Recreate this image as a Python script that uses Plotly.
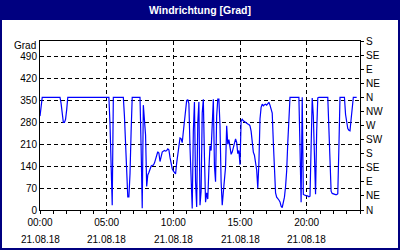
import pandas as pd
import plotly.graph_objects as go

# Wind direction in degrees, 5-minute samples starting 21.08.18 00:00
dir_00_05 = [300, 345, 360, 360, 360, 360, 360, 360, 360, 360, 360, 360,
             360, 360, 360, 360, 360, 360, 360, 340, 300, 280, 280, 290,
             320, 360, 360, 360, 360, 360, 360, 360, 360, 360, 360, 360,
             360, 360, 360, 360, 360, 360, 360, 360, 360, 360, 360, 360,
             360, 360, 360, 360, 360, 360, 360, 360, 360, 360, 360, 360]
dir_05_10 = [360, 360, 360, 275, 100, 15, 360, 360, 360, 360, 360, 360,
             360, 360, 360, 360, 300, 210, 95, 42, 42, 115, 250, 360,
             360, 360, 360, 360, 360, 360, 360, 200, 6, 335, 295, 240,
             75, 112, 120, 135, 140, 143, 143, 150, 162, 180, 186, 182,
             155, 170, 185, 188, 190, 188, 190, 195, 192, 168, 148, 132]
dir_10_15 = [125, 118, 115, 150, 175, 200, 230, 228, 215, 250, 290, 320,
             350, 352, 340, 200, 85, 5, 250, 345, 90, 10, 280, 345,
             15, 60, 310, 354, 170, 25, 55, 35, 130, 205, 190, 265,
             354, 140, 90, 300, 354, 354, 270, 90, 15, 57, 110, 137,
             269, 210, 225, 206, 178, 185, 200, 210, 227, 216, 180, 190]
dir_15_20 = [145, 285, 290, 285, 282, 278, 276, 275, 273, 269, 252, 215,
             185, 175, 150, 128, 70, 150, 291, 328, 338, 333, 336, 338,
             335, 340, 344, 335, 322, 310, 216, 110, 55, 41, 38, 32,
             26, 12, 8, 25, 41, 75, 125, 215, 300, 360, 360, 360,
             360, 360, 360, 360, 360, 360, 200, 25, 360, 50, 48, 46]
dir_20_24 = [45, 45, 42, 44, 200, 358, 300, 120, 50, 250, 358, 360,
             360, 360, 360, 360, 360, 360, 360, 360, 260, 112, 60, 53,
             51, 50, 49, 49, 52, 200, 360, 360, 360, 360, 360, 305,
             285, 260, 255, 253, 290, 340, 360, 360, 360, 360]

values = dir_00_05 + dir_05_10 + dir_10_15 + dir_15_20 + dir_20_24
start = "2018-08-21 00:00"
end = "2018-08-22 00:00"
times = pd.date_range(start, periods=len(values), freq="5min")

left_ticks = [0, 70, 140, 210, 280, 350, 420, 490]
right_ticks = [0, 45, 90, 135, 180, 225, 270, 315, 360, 405, 450, 495, 540]
right_labels = ["N", "NE", "E", "SE", "S", "SW", "W", "NW", "N", "NE", "E", "SE", "S"]
x_tick_times = ["2018-08-21 00:00", "2018-08-21 05:00", "2018-08-21 10:00",
                "2018-08-21 15:00", "2018-08-21 20:00"]
x_tick_dates = ["21.08.18"] * 5

FONT = "Liberation Sans"
NAVY = "#000080"

fig = go.Figure()
fig.add_trace(go.Scatter(x=times, y=values, mode="lines",
                         line=dict(color="#0000FF", width=1.2),
                         showlegend=False, hoverinfo="skip"))
fig.add_trace(go.Scatter(x=times, y=values, mode="lines", yaxis="y2",
                         line=dict(width=0), opacity=0,
                         showlegend=False, hoverinfo="skip"))

W, H = 400, 250
L, R, T, B = 40, 40, 41, 40
pw, ph = W - L - R, H - T - B


def px_x(px):
    return (px - L) / pw


def px_y(py):
    return (H - B - py) / ph


fig.update_layout(
    width=W, height=H,
    margin=dict(l=L, r=R, t=T, b=B),
    paper_bgcolor=NAVY,
    plot_bgcolor="white",
    font=dict(family=FONT, size=10, color="black"),
    xaxis=dict(
        type="date", range=[start, end],
        tickmode="array", tickvals=x_tick_times, tickformat="%H:%M",
        ticks="outside", ticklen=3, tickcolor="black",
        minor=dict(dtick=3600000, tick0=start, ticks="outside",
                   ticklen=3, tickcolor="black", showgrid=False),
        showgrid=True, gridcolor="black", griddash="4px,3px", gridwidth=1,
        showline=True, linecolor="black", linewidth=1, mirror=True,
        zeroline=False, tickfont=dict(size=10),
    ),
    yaxis=dict(
        range=[0, 540], tickmode="array", tickvals=left_ticks,
        ticks="", showgrid=True, gridcolor="black", griddash="4px,3px",
        gridwidth=1, showline=True, linecolor="black", linewidth=1,
        mirror=True, zeroline=False, tickfont=dict(size=10),
    ),
    yaxis2=dict(
        range=[0, 540], overlaying="y", side="right", tickmode="array",
        tickvals=right_ticks, ticktext=right_labels, ticks="outside",
        ticklen=3, tickcolor="black", showgrid=False, showline=True,
        linecolor="black", linewidth=1, zeroline=False,
        tickfont=dict(size=10),
    ),
    shapes=[
        dict(type="rect", xref="paper", yref="paper",
             x0=px_x(2), x1=px_x(398), y0=px_y(248), y1=px_y(20),
             fillcolor="white", line=dict(width=0), layer="below"),
    ],
)

annotations = [
    dict(text="<b>Windrichtung [Grad]</b>", xref="paper", yref="paper",
         x=0.5, y=px_y(10), xanchor="center", yanchor="middle",
         showarrow=False, font=dict(family=FONT, size=10.5, color="white")),
    dict(text="Grad", xref="paper", yref="paper", x=0, y=px_y(45),
         xanchor="right", yanchor="middle", xshift=-2, showarrow=False,
         font=dict(family=FONT, size=10, color="black")),
]
for tv, td in zip(x_tick_times, x_tick_dates):
    annotations.append(dict(text=td, xref="x", yref="paper", x=tv,
                            y=px_y(239), xanchor="center", yanchor="middle",
                            showarrow=False,
                            font=dict(family=FONT, size=10, color="black")))
fig.update_layout(annotations=annotations)

fig.write_html("out.html")
